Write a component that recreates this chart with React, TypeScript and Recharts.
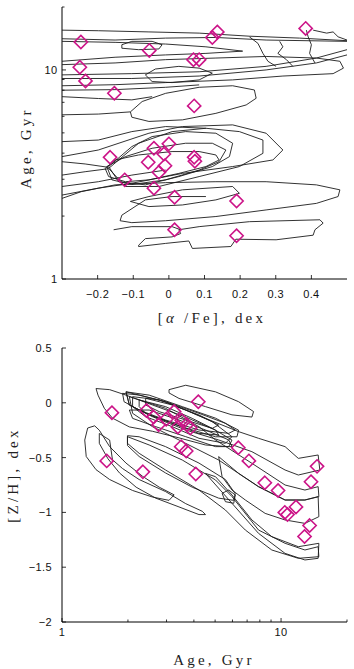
import React from 'react'
import { ScatterChart, Scatter, XAxis, YAxis } from 'recharts'

// ---------- top panel: [alpha/Fe] (dex) vs age (Gyr) ----------
const alphaTicks = [-0.2, -0.1, 0, 0.1, 0.2, 0.3, 0.4]
const ageTicks = [1, 2, 3, 4, 5, 6, 7, 8, 9, 10, 20]

const topStars = [
  [-0.247, 13.6], [-0.055, 12.4], [-0.25, 10.3], [-0.234, 8.86], [-0.153, 7.74],
  [0.071, 6.73], [0.122, 14.3], [0.136, 15.2], [0.069, 11.2], [0.085, 11.2],
  [0.384, 15.8], [-0.165, 3.82], [-0.124, 2.98], [-0.042, 4.22], [0.0, 4.43],
  [-0.014, 3.96], [-0.058, 3.62], [-0.011, 3.48], [-0.028, 3.24], [0.071, 3.82],
  [0.073, 3.66], [-0.042, 2.72], [0.016, 2.46], [0.19, 2.36], [0.016, 1.72],
  [0.19, 1.61],
]

// old population contours (8-16 Gyr)
const topOldContours = [
  [[-0.3, 15.5], [-0.198, 15.4], [-0.056, 15.2], [0.085, 15.0], [0.226, 14.5], [0.367, 14.2], [0.5, 13.8]],
  [[-0.3, 14.1], [-0.151, 13.9], [-0.009, 14.2], [0.132, 14.3], [0.273, 13.9], [0.5, 13.7]],
  [[-0.3, 13.7], [-0.151, 13.55], [-0.009, 13.3], [0.104, 12.9], [0.207, 12.3], [0.104, 12.0], [-0.009, 11.8], [-0.151, 11.5], [-0.3, 11.0]],
  [[-0.132, 13.2], [-0.104, 13.7], [-0.047, 13.7], [-0.019, 13.2], [-0.028, 12.6], [-0.085, 12.5], [-0.132, 12.7], [-0.132, 13.2]],
  [[-0.3, 10.6], [-0.151, 10.8], [-0.009, 11.2], [0.132, 11.4], [0.273, 11.6], [0.414, 11.4], [0.48, 11.0], [0.49, 10.2], [0.461, 9.6], [0.32, 9.35], [0.179, 8.96], [-0.009, 8.7], [-0.151, 8.5], [-0.3, 8.4]],
  [[-0.3, 9.47], [-0.104, 9.6], [0.085, 9.8], [0.273, 10.4], [0.414, 11.4], [0.5, 12.5]],
  [[-0.3, 9.1], [-0.104, 9.1], [0.085, 9.35], [0.273, 10.0], [0.414, 10.8], [0.5, 11.8]],
  [[0.226, 14.4], [0.25, 13.4], [0.264, 12.0], [0.278, 11.0], [0.301, 10.4]],
  [[0.311, 13.7], [0.32, 12.9], [0.306, 12.0], [0.33, 11.2], [0.348, 10.4]],
  [[0.386, 15.5], [0.391, 14.4], [0.4, 13.2], [0.395, 12.0], [0.41, 10.8]],
  [[0.405, 15.5], [0.443, 15.0], [0.461, 15.2], [0.475, 14.4], [0.5, 13.9]],
  [[-0.066, 9.47], [-0.038, 10.1], [0.028, 10.4], [0.085, 10.2], [0.122, 9.65], [0.085, 8.96], [0.009, 8.7], [-0.047, 8.8], [-0.066, 9.47]],
  [[-0.108, 6.3], [-0.075, 7.06], [-0.009, 7.73], [0.085, 8.26], [0.179, 8.4], [0.24, 8.02], [0.245, 7.32], [0.217, 6.8], [0.132, 6.2], [0.038, 5.77], [-0.056, 5.67], [-0.104, 5.94], [-0.108, 6.3]],
  [[-0.3, 7.45], [-0.198, 7.3], [-0.104, 7.19], [-0.047, 7.45]],
  [[-0.3, 6.1], [-0.198, 6.15], [-0.108, 6.3]],
  [[-0.3, 8.0], [-0.151, 8.05], [-0.009, 8.26], [0.085, 8.48]],
]

// intermediate population contours (3-5 Gyr)
const topMidContours = [
  [[-0.179, 3.38], [-0.151, 3.71], [-0.085, 3.92], [0.009, 4.07], [0.085, 4.07], [0.132, 3.92], [0.141, 3.71], [0.104, 3.45], [0.028, 3.2], [-0.056, 2.98], [-0.122, 2.92], [-0.169, 3.09], [-0.179, 3.38]],
  [[-0.174, 3.45], [-0.122, 3.85], [-0.047, 4.22], [0.047, 4.46], [0.122, 4.46], [0.16, 4.14], [0.141, 3.64], [0.085, 3.32], [-0.009, 2.98], [-0.104, 2.83], [-0.16, 2.98], [-0.174, 3.45]],
  [[-0.169, 3.45], [-0.104, 4.3], [-0.047, 4.8], [0.047, 5.07], [0.132, 4.98], [0.179, 4.46], [0.17, 3.85], [0.122, 3.45], [0.028, 3.09], [-0.066, 2.82], [-0.141, 2.92], [-0.169, 3.45]],
  [[-0.169, 3.38], [-0.085, 4.46], [0.009, 5.07], [0.104, 5.26], [0.198, 5.07], [0.264, 4.62], [0.264, 3.99], [0.198, 3.45], [0.085, 3.09], [-0.028, 2.77], [-0.122, 2.77], [-0.169, 3.38]],
  [[-0.3, 3.85], [-0.198, 4.14], [-0.056, 4.98], [0.038, 5.36], [0.179, 5.46], [0.273, 4.98], [0.32, 4.14], [0.292, 3.71], [0.179, 3.45], [0.038, 3.2], [-0.104, 2.87], [-0.198, 2.72], [-0.3, 2.52]],
  [[-0.3, 4.54], [-0.198, 4.62], [-0.104, 5.07], [-0.009, 5.36], [0.104, 5.26]],
  [[-0.3, 3.64], [-0.235, 3.55], [-0.169, 3.42]],
  [[-0.3, 3.14], [-0.235, 3.26], [-0.169, 3.37]],
  [[-0.3, 2.77], [-0.198, 2.92], [-0.104, 3.14], [-0.009, 3.32]],
]

// young population contours (1.4-2.9 Gyr)
const topYoungContours = [
  [[-0.3, 2.43], [-0.245, 2.62], [-0.151, 2.82], [-0.009, 2.89], [0.132, 2.92], [0.273, 2.92], [0.414, 2.82], [0.48, 2.67], [0.475, 2.48], [0.414, 2.3], [0.273, 2.14], [0.132, 1.99], [-0.009, 1.9], [-0.104, 1.86], [-0.137, 1.9], [-0.132, 2.02], [-0.066, 2.39], [0.009, 2.48], [0.104, 2.48]],
  [[-0.085, 1.45], [-0.066, 1.56], [0.009, 1.59], [0.033, 1.65], [0.028, 1.72], [0.085, 1.78], [0.226, 1.88], [0.424, 1.92], [0.433, 1.85], [0.41, 1.72], [0.405, 1.62], [0.301, 1.54], [0.188, 1.55], [0.174, 1.43], [0.066, 1.4], [0.056, 1.52], [-0.009, 1.48], [-0.085, 1.43], [-0.085, 1.45]],
  [[-0.155, 1.72], [-0.104, 1.78], [0.009, 1.78], [0.033, 1.72]],
  [[-0.108, 2.35], [-0.056, 2.48], [0.038, 2.67], [0.179, 2.77], [0.198, 2.57], [0.132, 2.39], [0.038, 2.26], [-0.056, 2.22], [-0.108, 2.35]],
]

// ---------- bottom panel: age (Gyr) vs [Z/H] (dex) ----------
const zhTicks = [-2, -1.5, -1, -0.5, 0, 0.5]

const bottomStars = [
  [1.69, -0.09], [1.6, -0.53], [2.34, -0.63], [2.43, -0.07], [4.19, 0.01],
  [2.62, -0.13], [2.76, -0.2], [3.25, -0.08], [3.52, -0.16], [3.71, -0.2],
  [3.38, -0.22], [3.85, -0.23], [2.99, -0.15], [3.5, -0.4], [3.69, -0.44],
  [4.08, -0.65], [6.38, -0.41], [7.13, -0.53], [8.43, -0.73], [9.69, -0.8],
  [10.4, -1.0], [10.7, -1.02], [11.7, -0.95], [14.6, -0.58], [13.7, -0.72],
  [13.5, -1.12], [12.8, -1.22],
]

const bottomLeftContours = [
  [[1.41, -0.21], [1.48, -0.25], [1.65, -0.4], [1.96, -0.55], [2.33, -0.67], [2.78, -0.77], [3.25, -0.84], [3.08, -0.89], [2.59, -0.86], [2.1, -0.8], [1.65, -0.7], [1.43, -0.61], [1.29, -0.49], [1.27, -0.34], [1.31, -0.23], [1.41, -0.21]],
  [[1.48, -0.28], [1.65, -0.34], [1.7, -0.52], [1.89, -0.6], [2.25, -0.7], [2.97, -0.81], [3.67, -0.92], [4.37, -0.99], [4.52, -1.02], [4.22, -1.02], [3.42, -0.95], [2.68, -0.87], [2.18, -0.77], [1.83, -0.64], [1.62, -0.51], [1.48, -0.37], [1.48, -0.28]],
  [[1.99, -0.3], [2.25, -0.31], [2.97, -0.4], [4.22, -0.55], [5.57, -0.7], [6.18, -0.83], [6.08, -0.89], [5.19, -0.87], [3.93, -0.77], [2.97, -0.64], [2.25, -0.49], [1.99, -0.39], [1.99, -0.3]],
  [[3.08, 0.12], [3.67, 0.16], [5.02, 0.1], [6.4, 0.01], [7.49, -0.08], [7.36, -0.13], [5.97, -0.11], [4.52, -0.035], [3.42, 0.04], [3.08, 0.09], [3.08, 0.12]],
  [[1.43, 0.13], [1.65, 0.12], [1.96, 0.07], [2.59, -0.02], [3.67, -0.13], [5.02, -0.25], [5.97, -0.34], [5.77, -0.4], [4.52, -0.385], [3.42, -0.32], [2.59, -0.26], [2.03, -0.22], [1.7, -0.14], [1.56, -0.05], [1.46, 0.07], [1.43, 0.13]],
]

const bottomCoreContours = [
  [[1.89, 0.086], [2.25, 0.071], [2.97, 0.01], [4.22, -0.096], [5.57, -0.187], [6.18, -0.248], [5.77, -0.279], [4.22, -0.248], [2.97, -0.157], [2.25, -0.066], [1.92, 0.01], [1.89, 0.086]],
  [[1.96, 0.1], [2.5, 0.07], [3.54, -0.035], [5.02, -0.14], [6.4, -0.25], [6.29, -0.31], [5.02, -0.31], [3.54, -0.22], [2.5, -0.11], [2.03, -0.02], [1.96, 0.1]],
  [[2.1, 0.056], [2.78, 0.026], [3.67, -0.066], [4.85, -0.172], [5.97, -0.309], [5.57, -0.37], [4.22, -0.324], [3.19, -0.218], [2.41, -0.127], [2.1, -0.035], [2.1, 0.056]],
  [[2.03, -0.066], [2.5, -0.066], [3.42, -0.157], [4.52, -0.248], [5.77, -0.339], [5.97, -0.4], [5.02, -0.4], [3.67, -0.309], [2.68, -0.218], [2.1, -0.142], [2.03, -0.066]],
  [[2.41, 0.041], [3.19, -0.02], [4.22, -0.111], [5.19, -0.203], [4.85, -0.233], [3.67, -0.157], [2.78, -0.081], [2.41, -0.02], [2.41, 0.041]],
  [[2.25, 0.026], [2.97, -0.035], [3.93, -0.142], [5.02, -0.248], [5.19, -0.294], [4.22, -0.279], [3.19, -0.187], [2.41, -0.096], [2.25, -0.035], [2.25, 0.026]],
]

const bottomRightContours = [
  [[1.96, 0.1], [2.97, 0.01], [4.52, -0.142], [6.4, -0.263], [7.89, -0.324], [10.43, -0.4], [11.99, -0.507], [14.77, -0.476], [15.03, -0.613], [11.99, -0.659], [10.43, -0.613], [7.36, -0.446], [5.19, -0.339], [3.67, -0.248], [2.59, -0.127], [2.03, -0.02], [1.96, 0.1]],
  [[2.03, 0.056], [2.97, -0.05], [4.22, -0.218], [5.02, -0.339], [7.36, -0.552], [10.43, -0.75], [12.85, -0.796], [14.77, -0.765], [14.88, -0.856], [12.85, -0.887], [10.43, -0.887], [7.89, -0.765], [6.4, -0.644], [5.19, -0.522], [3.67, -0.37], [2.59, -0.218], [2.1, -0.096], [2.03, 0.056]],
  [[1.99, -0.309], [2.5, -0.385], [3.54, -0.522], [5.02, -0.704], [5.97, -0.856], [7.89, -1.161], [10.43, -1.282], [12.85, -1.343], [14.77, -1.313], [14.88, -1.404], [11.99, -1.419], [9.07, -1.343], [6.87, -1.161], [5.57, -0.978], [4.22, -0.796], [2.97, -0.613], [2.25, -0.461], [1.99, -0.37], [1.99, -0.309]],
  [[5.19, -0.491], [6.4, -0.644], [7.89, -0.765], [10.43, -0.887], [12.85, -0.887], [14.77, -0.856], [14.88, -1.039], [12.85, -1.1], [10.43, -1.069], [8.46, -1.009], [6.87, -0.887], [5.97, -0.796], [5.38, -0.674], [5.19, -0.491]],
  [[4.52, -0.644], [5.97, -0.917], [7.89, -1.191], [10.43, -1.374], [12.85, -1.434], [14.77, -1.419], [14.88, -1.282], [11.99, -1.313], [9.07, -1.221], [7.36, -1.069], [5.97, -0.841], [5.02, -0.674], [4.52, -0.644]],
  [[5.38, -0.826], [5.77, -0.796], [6.18, -0.841], [6.08, -0.917], [5.57, -0.902], [5.38, -0.826]],
]

const INK = '#1c1c1c'
const MAGENTA = '#cc1488'
const SANS = '"Liberation Sans", Arial, sans-serif'
const SERIF = '"Liberation Serif", "Times New Roman", serif'

const toPts = (c: number[][]) => c.map(([x, y]) => ({ x, y }))

const fmtSigned = (v: number) => (v === 0 ? '0' : `${v < 0 ? '\u2212' : ''}${Math.abs(v)}`)
const fmtLog = (v: number) => (v === 1 || v === 10 ? String(v) : '')

function Diamond(props: any) {
  const { cx, cy } = props
  if (cx == null || cy == null) return <g />
  const r = 6.6
  return (
    <path
      d={`M${cx},${cy - r}L${cx + r},${cy}L${cx},${cy + r}L${cx - r},${cy}Z`}
      fill="none"
      stroke={MAGENTA}
      strokeWidth={1.6}
    />
  )
}

const NoDot = () => <g />

// inward tick marks, labels only on the left / bottom side
function Tick(props: any) {
  const { x, y, payload, side, fmt, gap, showText } = props
  const text = fmt(payload.value)
  const len = text ? 4 : 2.5
  const d =
    side === 'left' ? `M${x},${y}h${len}`
      : side === 'right' ? `M${x},${y}h${-len}`
        : side === 'bottom' ? `M${x},${y}v${-len}`
          : `M${x},${y}v${len}`
  return (
    <g>
      <path d={d} stroke="#000" strokeWidth={0.8} />
      {showText && text && side === 'left' && (
        <text x={x - gap} y={y} dy="0.36em" textAnchor="end" fontFamily={SANS} fontSize={11} letterSpacing={0.4} fill="#111">
          {text}
        </text>
      )}
      {showText && text && side === 'bottom' && (
        <text x={x} y={y + gap} textAnchor="middle" fontFamily={SANS} fontSize={11} letterSpacing={0.4} fill="#111">
          {text}
        </text>
      )}
    </g>
  )
}

function Title(props: any) {
  const { x, y, rotate, children } = props
  return (
    <text
      x={x}
      y={y}
      transform={rotate ? `rotate(-90 ${x} ${y})` : undefined}
      textAnchor="middle"
      fontFamily={SERIF}
      fontSize={15}
      letterSpacing={3.2}
      fill="#222"
    >
      {children}
    </text>
  )
}

const frame = { stroke: '#000', strokeWidth: 1 }

export default function App() {
  const topSeries = [...topOldContours, ...topMidContours, ...topYoungContours]
  const bottomSeries = [...bottomLeftContours, ...bottomCoreContours, ...bottomRightContours]

  return (
    <div style={{ position: 'absolute', left: 0, top: 0, width: 354, height: 669, background: '#fff' }}>
      <ScatterChart width={354} height={330} margin={{ top: 7, right: 7, bottom: 0, left: 0 }}>
        <XAxis
          xAxisId="b" type="number" dataKey="x" domain={[-0.3, 0.5]} allowDataOverflow
          ticks={alphaTicks} interval={0} height={51} tickSize={0} tickMargin={0}
          axisLine={frame} tickLine={false}
          tick={(p: any) => <Tick {...p} side="bottom" fmt={fmtSigned} gap={18.5} showText />}
        />
        <XAxis
          xAxisId="t" orientation="top" type="number" domain={[-0.3, 0.5]} allowDataOverflow
          ticks={alphaTicks} interval={0} height={0} tickSize={0} tickMargin={0}
          axisLine={frame} tickLine={false}
          tick={(p: any) => <Tick {...p} side="top" fmt={fmtSigned} />}
        />
        <YAxis
          yAxisId="l" type="number" dataKey="y" scale="log" domain={[1, 20]} allowDataOverflow
          ticks={ageTicks} interval={0} width={62} tickSize={0} tickMargin={0}
          axisLine={frame} tickLine={false}
          tick={(p: any) => <Tick {...p} side="left" fmt={fmtLog} gap={4.5} showText />}
        />
        <YAxis
          yAxisId="r" orientation="right" type="number" scale="log" domain={[1, 20]} allowDataOverflow
          ticks={ageTicks} interval={0} width={0} tickSize={0} tickMargin={0}
          axisLine={frame} tickLine={false}
          tick={(p: any) => <Tick {...p} side="right" fmt={fmtLog} />}
        />
        {topSeries.map((c, i) => (
          <Scatter
            key={`tc${i}`} xAxisId="b" yAxisId="l" data={toPts(c)}
            line={{ stroke: INK, strokeWidth: 0.9 }} shape={NoDot} isAnimationActive={false}
          />
        ))}
        <Scatter xAxisId="b" yAxisId="l" data={toPts(topStars)} shape={Diamond} isAnimationActive={false} />
      </ScatterChart>

      <ScatterChart width={354} height={339} margin={{ top: 18, right: 7, bottom: 0, left: 0 }}>
        <XAxis
          xAxisId="b" type="number" dataKey="x" scale="log" domain={[1, 20]} allowDataOverflow
          ticks={ageTicks} interval={0} height={47} tickSize={0} tickMargin={0}
          axisLine={frame} tickLine={false}
          tick={(p: any) => <Tick {...p} side="bottom" fmt={fmtLog} gap={14} showText />}
        />
        <XAxis
          xAxisId="t" orientation="top" type="number" scale="log" domain={[1, 20]} allowDataOverflow
          ticks={ageTicks} interval={0} height={0} tickSize={0} tickMargin={0}
          axisLine={frame} tickLine={false}
          tick={(p: any) => <Tick {...p} side="top" fmt={fmtLog} />}
        />
        <YAxis
          yAxisId="l" type="number" dataKey="y" domain={[-2, 0.5]} allowDataOverflow
          ticks={zhTicks} interval={0} width={62} tickSize={0} tickMargin={0}
          axisLine={frame} tickLine={false}
          tick={(p: any) => <Tick {...p} side="left" fmt={fmtSigned} gap={10} showText />}
        />
        <YAxis
          yAxisId="r" orientation="right" type="number" domain={[-2, 0.5]} allowDataOverflow
          ticks={zhTicks} interval={0} width={0} tickSize={0} tickMargin={0}
          axisLine={frame} tickLine={false}
          tick={(p: any) => <Tick {...p} side="right" fmt={fmtSigned} />}
        />
        {bottomSeries.map((c, i) => (
          <Scatter
            key={`bc${i}`} xAxisId="b" yAxisId="l" data={toPts(c)}
            line={{ stroke: INK, strokeWidth: 0.9 }} shape={NoDot} isAnimationActive={false}
          />
        ))}
        <Scatter xAxisId="b" yAxisId="l" data={toPts(bottomStars)} shape={Diamond} isAnimationActive={false} />
      </ScatterChart>

      {/* axis titles */}
      <svg width={354} height={669} style={{ position: 'absolute', left: 0, top: 0, pointerEvents: 'none' }}>
        <Title x={212} y={323}>[<tspan fontStyle="italic">α</tspan> /Fe], dex</Title>
        <Title x={31} y={148} rotate>Age, Gyr</Title>
        <Title x={18} y={475} rotate>[Z/H], dex</Title>
        <Title x={214} y={665}>Age, Gyr</Title>
      </svg>
    </div>
  )
}
